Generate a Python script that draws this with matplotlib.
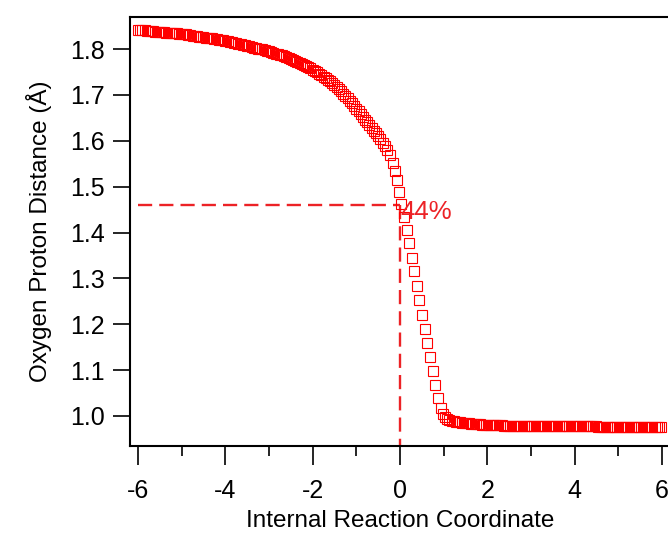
import matplotlib
matplotlib.use("Agg")
import matplotlib.pyplot as plt
from matplotlib.ticker import MultipleLocator

plt.rcParams['font.family'] = ['Liberation Sans', 'DejaVu Sans']

# Reactant side of the IRC path
x_left = [-6.00, -5.95, -5.90, -5.85, -5.80, -5.75, -5.70, -5.65, -5.60, -5.55,
          -5.50, -5.45, -5.40, -5.35, -5.30, -5.25, -5.20, -5.15, -5.10, -5.05,
          -5.00, -4.95, -4.90, -4.85, -4.80, -4.75, -4.70, -4.65, -4.60, -4.55,
          -4.50, -4.45, -4.40, -4.35, -4.30, -4.25, -4.20, -4.15, -4.10, -4.05,
          -4.00, -3.95, -3.90, -3.85, -3.80, -3.75, -3.70, -3.65, -3.60, -3.55,
          -3.50, -3.45, -3.40, -3.35, -3.30, -3.25, -3.20, -3.15, -3.10, -3.05,
          -3.00, -2.95, -2.90, -2.85, -2.80, -2.75, -2.70, -2.65, -2.60, -2.55,
          -2.50, -2.45, -2.40, -2.35, -2.30, -2.25, -2.20, -2.15, -2.10, -2.05,
          -2.00, -1.95, -1.90, -1.85, -1.80, -1.75, -1.70, -1.65, -1.60, -1.55,
          -1.50, -1.45, -1.40, -1.35, -1.30, -1.25, -1.20, -1.15, -1.10, -1.05,
          -1.00, -0.95, -0.90, -0.85, -0.80, -0.75, -0.70, -0.65, -0.60, -0.55,
          -0.50, -0.45, -0.40, -0.35, -0.30]
d_left = [1.842, 1.842, 1.841, 1.841, 1.840, 1.840, 1.839, 1.839, 1.838, 1.838,
          1.838, 1.837, 1.837, 1.836, 1.836, 1.835, 1.835, 1.834, 1.834, 1.833,
          1.833, 1.832, 1.832, 1.831, 1.830, 1.829, 1.829, 1.828, 1.827, 1.826,
          1.826, 1.825, 1.824, 1.823, 1.823, 1.822, 1.821, 1.820, 1.820, 1.819,
          1.818, 1.817, 1.816, 1.815, 1.814, 1.813, 1.811, 1.810, 1.809, 1.808,
          1.807, 1.806, 1.804, 1.803, 1.802, 1.801, 1.800, 1.799, 1.797, 1.796,
          1.795, 1.793, 1.792, 1.790, 1.789, 1.787, 1.786, 1.784, 1.782, 1.780,
          1.778, 1.776, 1.774, 1.772, 1.770, 1.768, 1.766, 1.763, 1.761, 1.758,
          1.755, 1.752, 1.749, 1.746, 1.743, 1.740, 1.737, 1.733, 1.730, 1.726,
          1.722, 1.718, 1.713, 1.708, 1.703, 1.698, 1.693, 1.687, 1.682, 1.676,
          1.670, 1.664, 1.658, 1.652, 1.646, 1.640, 1.634, 1.628, 1.622, 1.616,
          1.610, 1.603, 1.596, 1.589, 1.580]

# Proton-transfer region
x_mid = [-0.229, -0.167, -0.114, -0.076, -0.023, 0.034, 0.092, 0.153, 0.213, 0.268,
         0.321, 0.382, 0.442, 0.511, 0.572, 0.625, 0.687, 0.749, 0.801, 0.863,
         0.939, 0.985]
d_mid = [1.569, 1.552, 1.534, 1.514, 1.488, 1.462, 1.434, 1.405, 1.377, 1.344,
         1.316, 1.283, 1.253, 1.220, 1.190, 1.159, 1.129, 1.098, 1.068, 1.039,
         1.017, 1.004]

# Product side of the IRC path
x_right = [1.03, 1.08, 1.13, 1.18, 1.23, 1.28, 1.33, 1.38, 1.43, 1.48,
           1.53, 1.58, 1.63, 1.68, 1.73, 1.78, 1.83, 1.88, 1.93, 1.98,
           2.03, 2.08, 2.13, 2.18, 2.23, 2.28, 2.33, 2.38, 2.43, 2.48,
           2.53, 2.58, 2.63, 2.68, 2.73, 2.78, 2.83, 2.88, 2.93, 2.98,
           3.03, 3.08, 3.13, 3.18, 3.23, 3.28, 3.33, 3.38, 3.43, 3.48,
           3.53, 3.58, 3.63, 3.68, 3.73, 3.78, 3.83, 3.88, 3.93, 3.98,
           4.03, 4.08, 4.13, 4.18, 4.23, 4.28, 4.33, 4.38, 4.43, 4.48,
           4.53, 4.58, 4.63, 4.68, 4.73, 4.78, 4.83, 4.88, 4.93, 4.98,
           5.03, 5.08, 5.13, 5.18, 5.23, 5.28, 5.33, 5.38, 5.43, 5.48,
           5.53, 5.58, 5.63, 5.68, 5.73, 5.78, 5.83, 5.88, 5.93, 5.98]
d_right = [0.997, 0.994, 0.992, 0.990, 0.989, 0.988, 0.987, 0.986, 0.985, 0.985,
           0.984, 0.984, 0.983, 0.983, 0.982, 0.982, 0.982, 0.981, 0.981, 0.981,
           0.981, 0.980, 0.980, 0.980, 0.980, 0.980, 0.980, 0.979, 0.979, 0.979,
           0.979, 0.979, 0.979, 0.979, 0.979, 0.979, 0.979, 0.979, 0.979, 0.979,
           0.979, 0.978, 0.978, 0.978, 0.978, 0.978, 0.978, 0.978, 0.978, 0.978,
           0.978, 0.978, 0.978, 0.978, 0.978, 0.978, 0.978, 0.978, 0.978, 0.978,
           0.978, 0.978, 0.978, 0.978, 0.978, 0.978, 0.978, 0.978, 0.978, 0.978,
           0.977, 0.977, 0.977, 0.977, 0.977, 0.977, 0.977, 0.977, 0.977, 0.977,
           0.977, 0.977, 0.977, 0.977, 0.977, 0.977, 0.977, 0.977, 0.977, 0.977,
           0.977, 0.977, 0.977, 0.977, 0.977, 0.977, 0.977, 0.977, 0.977, 0.977]

# Marked crossing point
x_cross = 0.0
d_cross = 1.46
cross_label = "44%"

x_ticks = [-6, -4, -2, 0, 2, 4, 6]
y_ticks = [1.0, 1.1, 1.2, 1.3, 1.4, 1.5, 1.6, 1.7, 1.8]

xs = x_left + x_mid + x_right
ds = d_left + d_mid + d_right

fig = plt.figure(figsize=(6.68, 5.33), dpi=100)
ax = fig.add_axes([130 / 668, 1 - 446 / 533, 541 / 668, (446 - 17) / 533])

xmin, xmax = -6.183, 6.206
ymin, ymax = 0.9346, 1.8698

ax.plot(xs, ds, linestyle='none', marker='s', markersize=6.5,
        markerfacecolor='none', markeredgecolor='#ff0000', markeredgewidth=0.8,
        clip_on=False, zorder=3)

dash_col = '#ec2226'
ax.plot([-6.0, x_cross], [d_cross, d_cross], color=dash_col, lw=1.7,
        dashes=(6, 3), zorder=2)
ax.plot([x_cross, x_cross], [d_cross, ymin], color=dash_col, lw=1.7,
        dashes=(6, 3), zorder=2)
ax.text(x_cross, d_cross - 0.016, cross_label, color=dash_col, fontsize=18.5,
        ha='left', va='center', zorder=4)

ax.set_xlim(xmin, xmax)
ax.set_ylim(ymin, ymax)
ax.set_xticks(x_ticks)
ax.set_xticklabels([str(t) for t in x_ticks])
ax.xaxis.set_minor_locator(MultipleLocator(1))
ax.set_yticks(y_ticks)
ax.set_yticklabels([f"{t:.1f}" for t in y_ticks])

ax.spines['right'].set_visible(False)
for s in ('left', 'top', 'bottom'):
    ax.spines[s].set_linewidth(1.5)

ax.tick_params(axis='x', which='major', direction='out', length=14, width=1.2,
               labelsize=18, pad=10)
ax.tick_params(axis='x', which='minor', direction='out', length=7.5, width=1.2)
ax.tick_params(axis='y', which='major', direction='out', length=12, width=1.2,
               labelsize=18, pad=6)

ax.set_xlabel("Internal Reaction Coordinate", fontsize=17.5, labelpad=4.5)
ax.set_ylabel("Oxygen Proton Distance (Å)", fontsize=17.5, labelpad=13)

fig.savefig("out.png", dpi=100)
